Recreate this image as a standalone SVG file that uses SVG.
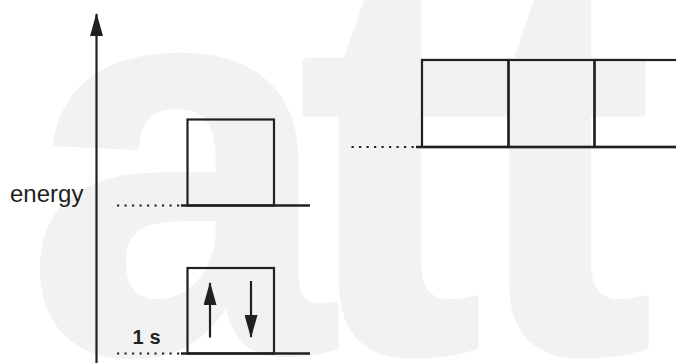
<svg xmlns="http://www.w3.org/2000/svg" width="676" height="363" viewBox="0 0 676 363">
  <style>
    .box { stroke: #231f20; stroke-width: 2.2; fill: none; }
    .level { stroke: #231f20; stroke-width: 2.6; fill: none; }
    .dots { stroke: #231f20; stroke-width: 2.2; stroke-dasharray: 2.2 5.3; fill: none; }
    .shaft { stroke: #231f20; stroke-width: 2.2; fill: none; }
    .label { font-family: "Liberation Sans", Arial, sans-serif; fill: #231f20; }
    .mark { font-family: "Liberation Sans", Arial, sans-serif; font-weight: bold; fill: #f2f2f2; stroke: #f2f2f2; stroke-width: 8; stroke-linejoin: round; }
  </style>
  <defs>
    <marker id="head" markerUnits="userSpaceOnUse" viewBox="0 0 23 13" refX="22" refY="6.5" markerWidth="23" markerHeight="13" orient="auto">
      <path d="M0,0 L23,6.5 L0,13 z" fill="#231f20"/>
    </marker>
  </defs>

  <rect width="676" height="363" fill="#ffffff"/>

  <!-- background lettering -->
  <g id="watermark">
    <text class="mark" font-size="545" x="28 300 470" y="350">att</text>
  </g>

  <!-- energy axis -->
  <g id="axis">
    <line class="shaft" x1="96.5" y1="363" x2="96.5" y2="14" marker-end="url(#head)"/>
    <text class="label" x="10" y="202" font-size="24">energy</text>
  </g>

  <!-- 1s orbital with a spin pair -->
  <g id="orbital-1s">
    <rect class="box" x="187.5" y="268" width="86.5" height="85.5"/>
    <line class="shaft" x1="210" y1="337.5" x2="210" y2="283" marker-end="url(#head)"/>
    <line class="shaft" x1="251" y1="281" x2="251" y2="337" marker-end="url(#head)"/>
    <text class="label" x="132.5 149.5" y="343.5" font-size="20" font-weight="bold">1s</text>
  </g>

  <!-- empty orbital above 1s -->
  <g id="orbital-2s">
    <rect class="box" x="187.5" y="119.5" width="86.5" height="86"/>
  </g>

  <!-- row of three orbitals -->
  <g id="orbitals-2p">
    <rect class="box" x="422" y="60" width="86.5" height="87"/>
    <rect class="box" x="508.5" y="60" width="86" height="87"/>
    <rect class="box" x="594.5" y="60" width="86.5" height="87"/>
  </g>

  <!-- energy level lines and dotted leaders -->
  <g id="connectors">
    <line class="dots" x1="117" y1="353.5" x2="181" y2="353.5"/>
    <line class="level" x1="181" y1="353.5" x2="310" y2="353.5"/>
    <line class="dots" x1="117" y1="205.5" x2="181" y2="205.5"/>
    <line class="level" x1="181" y1="205.5" x2="310" y2="205.5"/>
    <line class="dots" x1="351.5" y1="147" x2="416" y2="147"/>
    <line class="level" x1="416" y1="147" x2="676" y2="147"/>
  </g>
</svg>
